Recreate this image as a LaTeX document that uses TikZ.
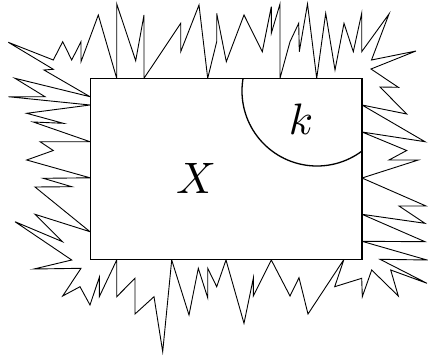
\documentclass[tikz,border=0pt]{standalone}
\begin{document}
\begin{tikzpicture}[x=1pt,y=-1pt,
  spiky/.style={line width=0.9pt,line join=miter},
  box/.style={line width=1.5pt},
  quarter/.style={line width=1.3pt},
  lbl/.style={inner sep=0pt,scale=4.4}]
\useasboundingbox (0,0) rectangle (428,356);
\draw[spiky] (90,96.7) -- (15,78.3) -- (45,96.7) -- (8.3,96.7) -- (90,105) -- (26.7,113.3) -- (63.3,123.3) -- (33.3,122) -- (90,141.7) -- (40,141.7) -- (53.3,150.5) -- (26.7,160) -- (90,177.8) -- (43.3,178.3) -- (71.7,186.7) -- (35,187) -- (90,231.7) -- (35,214.3) -- (62.5,241.7) -- (15,221.7) -- (71.7,260) -- (34,269) -- (81,268.3) -- (62.7,296) -- (80,286.7) -- (90,305) -- (99.3,277.3) -- (99.3,296.7) -- (116.7,260) -- (116.7,296.7) -- (135,278.3) -- (135,314) -- (154,296.7) -- (162.7,351.7) -- (171.7,260) -- (189,315) -- (198.3,268.3) -- (207.7,297.7) -- (207.7,268.3) -- (216.7,286.7) -- (226,260) -- (244,323.3) -- (253.3,278.3) -- (253.3,296) -- (271.3,260) -- (290,296) -- (299,277.7) -- (308,314) -- (344,259.3) -- (334.7,286.7) -- (361.7,278.3) -- (362.3,296.7) -- (371.7,270) -- (398.3,296) -- (390.7,270) -- (427,283.3) -- (380,259.3) -- (427,260) -- (362,241.3) -- (425,241.7) -- (362,214.3) -- (425,223.3) -- (399,206) -- (426,206) -- (362,178) -- (418.3,160) -- (389,160) -- (406.7,150.5) -- (362,132) -- (425,141.7) -- (362,105) -- (406.7,114) -- (380,87) -- (398.3,87.3) -- (371,69) -- (416,51) -- (371.5,60) -- (389,14) -- (361.7,51.7) -- (361.7,13.3) -- (353.3,51.7) -- (344,23.3) -- (335,70) -- (325.7,13.3) -- (316.7,78.3) -- (307.5,4) -- (299.3,51.7) -- (298.7,23.3) -- (290,41.7) -- (280,78.3) -- (280,4) -- (271.3,33.3) -- (271.3,6.7) -- (262.3,51.7) -- (244,15) -- (226.3,61.7) -- (216.7,13.3) -- (216.7,41.7) -- (207.7,78.3) -- (199,5) -- (180.7,51.7) -- (180.7,23.3) -- (144,78.3) -- (144,15) -- (135.7,60.7) -- (116.7,4) -- (116.7,78.3) -- (98.3,15) -- (81,61.7) -- (81,41.7) -- (71.7,60) -- (62.7,41.7) -- (53.3,60) -- (8.3,42.3) -- (53.3,69.3) -- (44,70) -- cycle;
\draw[box,fill=white] (90.5,78.3) rectangle (361.8,259.3);
\begin{scope}
  \clip (90.5,78.3) rectangle (361.8,259.3);
  \draw[quarter] (317,91) circle[radius=75pt];
\end{scope}
\node[lbl] (X) at (196,178) {$X$};
\node[lbl] (k) at (301,119) {$k$};
\end{tikzpicture}
\end{document}
